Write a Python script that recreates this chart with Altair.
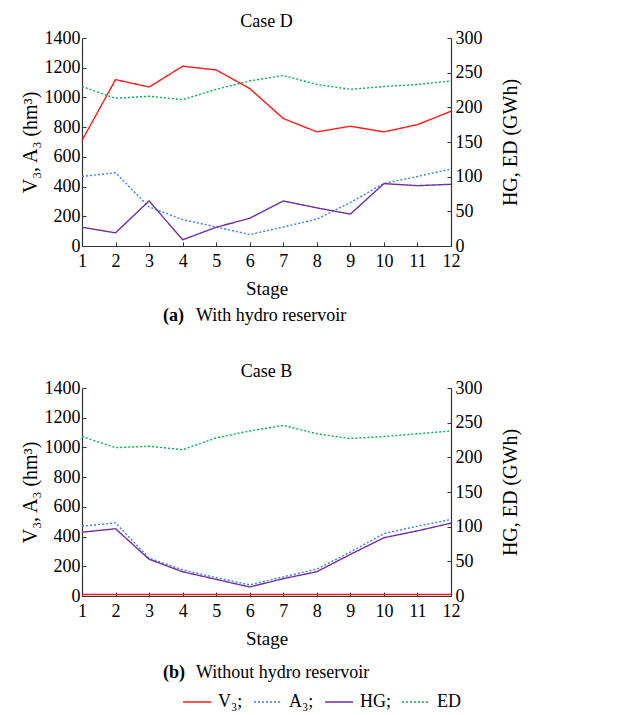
import altair as alt
import pandas as pd

FONT = "Liberation Serif"

stages = [1, 2, 3, 4, 5, 6, 7, 8, 9, 10, 11, 12]
series = ["V₃;", "A₃;", "HG;", "ED"]
colors = ["#ff1a1a", "#3a7fe0", "#7030a0", "#00b050"]
dashes = [[1, 0], [2, 2], [1, 0], [2, 2]]

# Case D (with hydro reservoir)
a_V3 = [710, 1120, 1070, 1210, 1185, 1060, 858, 768, 806, 768, 817, 907]
a_A3 = [468, 493, 263, 178, 128, 77, 128, 180, 293, 421, 468, 518]
a_HG = [27, 19, 65, 9, 27, 40, 65, 55, 46, 90, 87, 89]
a_ED = [230, 213, 216, 211, 226, 238, 246, 233, 226, 230, 233, 238]

# Case B (without hydro reservoir)
b_V3 = [10, 10, 10, 10, 10, 10, 10, 10, 10, 10, 10, 10]
b_A3 = [470, 492, 255, 176, 124, 75, 129, 181, 296, 420, 470, 515]
b_HG = [92, 97, 53, 35, 24, 13, 25, 35, 60, 84, 94, 105]
b_ED = [230, 214, 216, 211, 228, 238, 246, 234, 227, 230, 234, 238]

W, H = 369, 208
INWARD = {"expr": "-4"}

legend = alt.Legend(
    orient="none", legendX=100, legendY=649, direction="horizontal", title=None,
    symbolType="stroke", symbolSize=784, symbolStrokeWidth=1.5,
    labelFont=FONT, labelFontSize=18, labelColor="black", columnPadding=8,
    labelOffset=6,
)


def panel(V3, A3, HG, ED, case, tag, caption, cap_y):
    dfL = pd.DataFrame({"Stage": stages * 2,
                        "series": [series[0]] * 12 + [series[1]] * 12,
                        "value": V3 + A3})
    dfR = pd.DataFrame({"Stage": stages * 2,
                        "series": [series[2]] * 12 + [series[3]] * 12,
                        "value": HG + ED})
    color = alt.Color("series:N", scale=alt.Scale(domain=series, range=colors), legend=legend)
    dash = alt.StrokeDash("series:N", scale=alt.Scale(domain=series, range=dashes), legend=legend)
    x = alt.X("Stage:Q", scale=alt.Scale(domain=[1, 12], nice=False, zero=False),
              axis=alt.Axis(values=stages, format="d", title="Stage", tickSize=INWARD,
                            labelPadding=10, titlePadding=9, labelFontSize=18,
                            titleFontSize=19, labelFlush=False))
    left = alt.Chart(dfL).mark_line(strokeWidth=1.4).encode(
        x=x,
        y=alt.Y("value:Q", scale=alt.Scale(domain=[0, 1400], nice=False),
                axis=alt.Axis(orient="left", values=list(range(0, 1401, 200)), format="d",
                              title="V₃, A₃ (hm³)", tickSize=INWARD, labelPadding=6,
                              titlePadding=4, labelFontSize=18, titleFontSize=20)),
        color=color, strokeDash=dash, order="Stage:Q",
    )
    right = alt.Chart(dfR).mark_line(strokeWidth=1.4).encode(
        x=x,
        y=alt.Y("value:Q", scale=alt.Scale(domain=[0, 300], nice=False),
                axis=alt.Axis(orient="right", values=list(range(0, 301, 50)), format="d",
                              title="HG, ED (GWh)", tickSize=INWARD, labelPadding=8,
                              titlePadding=18, labelFontSize=18, titleFontSize=20,
                              titleAngle=270, titleBaseline="top")),
        color=color, strokeDash=dash, order="Stage:Q",
    )
    cap1 = alt.Chart(pd.DataFrame({"t": [tag]})).mark_text(
        font=FONT, fontSize=18, fontWeight="bold", align="left", baseline="alphabetic",
        color="black").encode(text="t:N", x=alt.value(81), y=alt.value(cap_y))
    cap2 = alt.Chart(pd.DataFrame({"t": [caption]})).mark_text(
        font=FONT, fontSize=18, align="left", baseline="alphabetic",
        color="black").encode(text="t:N", x=alt.value(114), y=alt.value(cap_y))
    return alt.layer(left, right, cap1, cap2).resolve_scale(y="independent").properties(
        width=W, height=H,
        title=alt.Title(case, font=FONT, fontSize=18, fontWeight="normal", offset=-2, color="black"),
    )


top = panel(a_V3, a_A3, a_HG, a_ED, "Case D", "(a)", "With hydro reservoir", 283)
bottom = panel(b_V3, b_A3, b_HG, b_ED, "Case B", "(b)", "Without hydro reservoir", 290)

chart = alt.vconcat(top, bottom, spacing=38).properties(
    padding={"left": 12, "top": 5, "right": 5, "bottom": 5}
).configure_view(stroke=None).configure_axis(
    grid=False, domainColor="#333333", tickColor="#333333", labelColor="black",
    titleColor="black", labelFont=FONT, titleFont=FONT, titleFontWeight="normal",
    domainWidth=1.2,
)

chart.save("out.html", embed_options={"renderer": "svg", "actions": False})
